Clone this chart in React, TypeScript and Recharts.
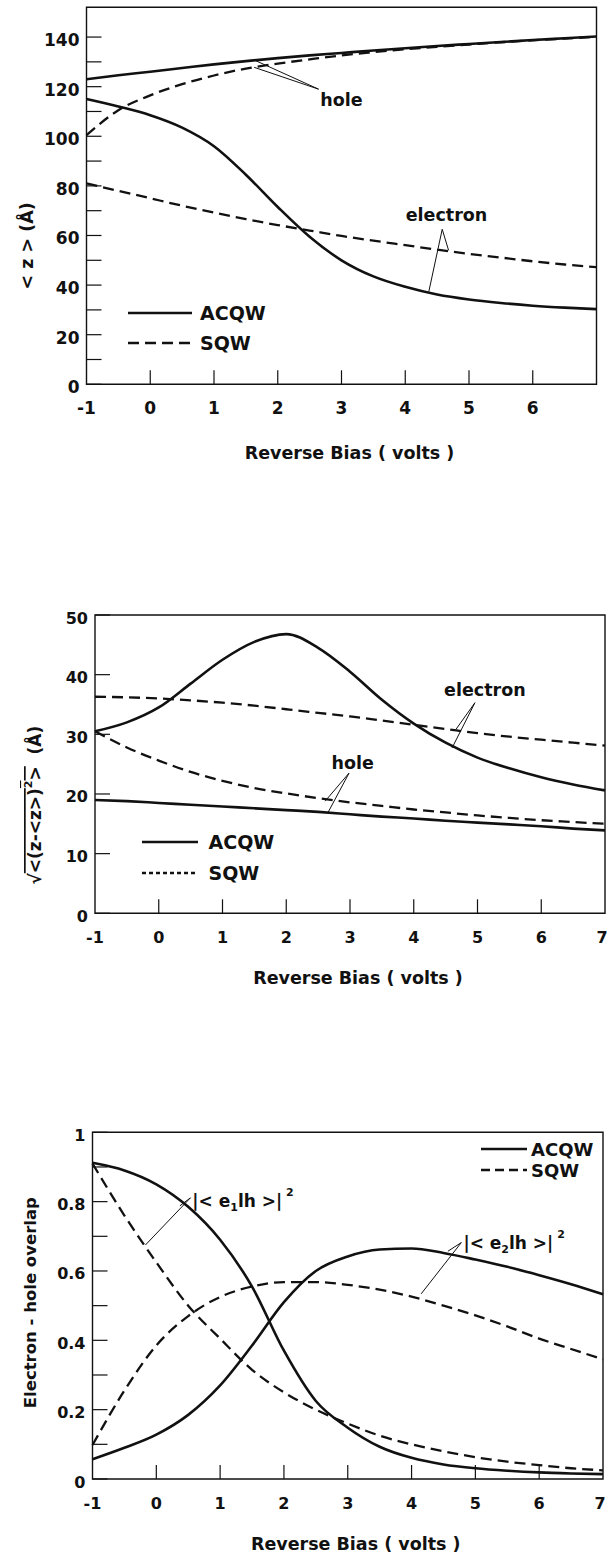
import { LineChart, Line, XAxis, YAxis, ReferenceArea, ReferenceLine, ReferenceDot, Legend } from 'recharts';

const FONT = '"DejaVu Sans", "Liberation Sans", sans-serif';
const INK = '#111';

// reverse bias (volts), shared by all three panels
const BIAS = [-1, -0.5, 0, 0.5, 1, 1.5, 2, 2.5, 3, 3.5, 4, 4.5, 5, 5.5, 6, 6.5, 7];

// panel 1: <z> (Å)
const Z_HOLE_ACQW = [123, 124.6, 126, 127.5, 129, 130.3, 131.5, 132.6, 133.6, 134.6, 135.5, 136.4, 137.2, 138, 138.8, 139.5, 140.2];
const Z_HOLE_SQW = [100.5, 110.5, 116.5, 121, 124.5, 127.3, 129.3, 131, 132.6, 133.9, 135.1, 136.1, 137, 137.9, 138.7, 139.4, 140.1];
const Z_ELEC_ACQW = [115, 112, 108.5, 103.5, 96, 84.5, 71.5, 59.5, 50, 43.5, 39.3, 36.2, 34.2, 32.8, 31.7, 30.9, 30.3];
const Z_ELEC_SQW = [81, 78, 75, 72, 69.2, 66.6, 64.2, 62, 59.8, 57.9, 56.1, 54.3, 52.6, 51.1, 49.6, 48.3, 47.2];

// panel 2: sqrt(<(z-<z>)^2>) (Å)
const W_ELEC_ACQW = [30.5, 32, 34.5, 38.5, 42.5, 45.5, 46.8, 44.5, 40.5, 35.8, 31.8, 28.6, 26.1, 24.3, 22.8, 21.6, 20.6];
const W_ELEC_SQW = [36.3, 36.2, 36, 35.7, 35.3, 34.8, 34.2, 33.6, 33, 32.3, 31.6, 30.9, 30.2, 29.6, 29.1, 28.6, 28.1];
const W_HOLE_SQW = [30.5, 27.8, 25.6, 23.7, 22.2, 21, 20.1, 19.3, 18.6, 18, 17.4, 16.9, 16.4, 16, 15.6, 15.3, 15];
const W_HOLE_ACQW = [19, 18.8, 18.5, 18.2, 17.9, 17.6, 17.3, 17, 16.6, 16.2, 15.9, 15.5, 15.2, 14.9, 14.6, 14.2, 13.9];

// panel 3: electron-hole overlap
const O_E1_ACQW = [0.912, 0.89, 0.85, 0.785, 0.69, 0.555, 0.37, 0.225, 0.148, 0.093, 0.061, 0.042, 0.031, 0.024, 0.019, 0.016, 0.014];
const O_E1_SQW = [0.91, 0.76, 0.625, 0.5, 0.405, 0.315, 0.25, 0.2, 0.16, 0.125, 0.1, 0.08, 0.063, 0.05, 0.04, 0.031, 0.025];
const O_E2_ACQW = [0.057, 0.09, 0.128, 0.185, 0.27, 0.385, 0.51, 0.6, 0.642, 0.662, 0.665, 0.652, 0.633, 0.612, 0.588, 0.562, 0.533];
const O_E2_SQW = [0.098, 0.255, 0.385, 0.47, 0.525, 0.555, 0.568, 0.568, 0.56, 0.546, 0.526, 0.5, 0.472, 0.44, 0.405, 0.375, 0.345];

const X_TICKS = [-1, 0, 1, 2, 3, 4, 5, 6, 7];
const Z_TICKS = [0, 10, 20, 30, 40, 50, 60, 70, 80, 90, 100, 110, 120, 130, 140];
const W_TICKS = [0, 10, 20, 30, 40, 50];
const O_TICKS = [0, 0.1, 0.2, 0.3, 0.4, 0.5, 0.6, 0.7, 0.8, 0.9, 1];

const LEGEND = [
  { name: 'ACQW', dash: false },
  { name: 'SQW', dash: true },
];

const rows = (cols: Record<string, number[]>) =>
  BIAS.map((x, i) => {
    const r: Record<string, number> = { x };
    Object.keys(cols).forEach((k) => (r[k] = cols[k][i]));
    return r;
  });

const zData = rows({ ha: Z_HOLE_ACQW, hs: Z_HOLE_SQW, ea: Z_ELEC_ACQW, es: Z_ELEC_SQW });
const wData = rows({ ea: W_ELEC_ACQW, es: W_ELEC_SQW, hs: W_HOLE_SQW, ha: W_HOLE_ACQW });
const oData = rows({ e1a: O_E1_ACQW, e1s: O_E1_SQW, e2a: O_E2_ACQW, e2s: O_E2_SQW });

const txt = { fontFamily: FONT, fontWeight: 700, fill: INK } as const;

const yTick = (fontSize: number, show: (v: number) => boolean, fmt: (v: number) => string) => (p: any) => {
  const v = p.payload.value;
  return (
    <g>
      <line x1={p.x} x2={p.x + 15} y1={p.y} y2={p.y} stroke={INK} strokeWidth={1.2} />
      {show(v) && (
        <text x={p.x - 7} y={p.y + 3} textAnchor="end" dominantBaseline="central" fontSize={fontSize} {...txt}>
          {fmt(v)}
        </text>
      )}
    </g>
  );
};

const xTick = (fontSize: number, maxLabel: number) => (p: any) => {
  const v = p.payload.value;
  // the last label sits on the page edge; nudge it in so it stays whole
  const lx = v === 7 ? p.x - 3 : p.x;
  return (
    <g>
      {v > -1 && v < 7 && <line x1={p.x} x2={p.x} y1={p.y} y2={p.y - 14} stroke={INK} strokeWidth={1.2} />}
      {v <= maxLabel && (
        <text x={lx} y={p.y + 24} textAnchor="middle" dominantBaseline="central" fontSize={fontSize} {...txt}>
          {v}
        </text>
      )}
    </g>
  );
};

const xTitle = (dy: number) => (p: any) => {
  const vb = p.viewBox;
  return (
    <text x={vb.x + vb.width / 2 + 8} y={vb.y + dy} textAnchor="middle" dominantBaseline="central" fontSize={17.5} {...txt}>
      Reverse Bias ( volts )
    </text>
  );
};

const yTitle = (dx: number, dy: number, content: any, fontSize: number) => (p: any) => {
  const vb = p.viewBox;
  const cx = vb.x + vb.width + dx;
  const cy = vb.y + vb.height / 2 + dy;
  return (
    <text x={cx} y={cy} transform={`rotate(-90 ${cx} ${cy})`} textAnchor="middle" dominantBaseline="central" fontSize={fontSize} {...txt}>
      {content}
    </text>
  );
};

const note = (content: any, fontSize = 17.5) => (p: any) => (
  <text x={p.cx} y={p.cy} dominantBaseline="central" fontSize={fontSize} {...txt}>
    {content}
  </text>
);

function LegendBox({ rowH, lineLen, gap, fontSize, dash }: { rowH: number; lineLen: number; gap: number; fontSize: number; dash: string }) {
  return (
    <div style={{ fontFamily: FONT, fontWeight: 700, fontSize, color: INK }}>
      {LEGEND.map((it) => (
        <div key={it.name} style={{ display: 'flex', alignItems: 'center', height: rowH }}>
          <svg width={lineLen} height={6} style={{ marginRight: gap }}>
            <line x1={0} x2={lineLen} y1={3} y2={3} stroke={INK} strokeWidth={2.4} strokeDasharray={it.dash ? dash : undefined} />
          </svg>
          <span>{it.name}</span>
        </div>
      ))}
    </div>
  );
}

const seg = (a: [number, number], b: [number, number]) => (
  <ReferenceLine segment={[{ x: a[0], y: a[1] }, { x: b[0], y: b[1] }]} stroke={INK} strokeWidth={1} ifOverflow="visible" />
);

const solid = { stroke: INK, strokeWidth: 2.6, dot: false, activeDot: false, isAnimationActive: false } as const;
const dashed = { ...solid, strokeWidth: 2.3, strokeDasharray: '11 6' } as const;

export default function App() {
  return (
    <div style={{ position: 'absolute', left: 0, top: 0, width: 608, height: 1558, background: '#fff' }}>
      {/* panel 1 */}
      <div style={{ position: 'absolute', left: 0, top: 0 }}>
        <LineChart width={608} height={480} data={zData} margin={{ top: 7.3, right: 11.5, bottom: 65.7, left: 26.5 }}>
          <XAxis dataKey="x" type="number" domain={[-1, 7]} ticks={X_TICKS} interval={0} height={30} axisLine={false} tickLine={false} tickSize={0} tickMargin={0} tick={xTick(17, 6)} label={xTitle(69)} />
          <YAxis type="number" domain={[0, 152]} ticks={Z_TICKS} interval={0} width={60} axisLine={false} tickLine={false} tickSize={0} tickMargin={0}
            tick={yTick(17, (v) => v % 20 === 0, (v) => String(v))}
            label={yTitle(-59.5, 50, '< z > (Å)', 17.5)} />
          <ReferenceArea x1={-1} x2={7} y1={0} y2={152} fill="none" stroke={INK} strokeWidth={1.4} />
          <Line dataKey="ha" {...solid} type="monotone" />
          <Line dataKey="hs" {...dashed} type="monotone" />
          <Line dataKey="ea" {...solid} type="monotone" />
          <Line dataKey="es" {...dashed} type="monotone" />
          {seg([2.64, 119], [1.66, 130.4])}
          {seg([2.64, 119], [1.63, 127.8])}
          {seg([4.58, 62.5], [4.68, 54])}
          {seg([4.58, 62.5], [4.37, 37.4])}
          <ReferenceDot x={2.668} y={114.7} r={0} shape={note('hole')} />
          <ReferenceDot x={4.007} y={68.3} r={0} shape={note('electron')} />
          <Legend layout="vertical" align="center" verticalAlign="middle" wrapperStyle={{ left: 128, top: 298.3, width: 'auto' }}
            content={() => <LegendBox rowH={30} lineLen={64} gap={8} fontSize={19} dash="11 6" />} />
        </LineChart>
      </div>

      {/* panel 2 */}
      <div style={{ position: 'absolute', left: 0, top: 520 }}>
        <LineChart width={608} height={490} data={wData} margin={{ top: 95, right: 3, bottom: 66.7, left: 35 }}>
          <XAxis dataKey="x" type="number" domain={[-1, 7]} ticks={X_TICKS} interval={0} height={30} axisLine={false} tickLine={false} tickSize={0} tickMargin={0} tick={xTick(16, 7)} label={xTitle(65)} />
          <YAxis type="number" domain={[0, 50]} ticks={W_TICKS} interval={0} width={60} axisLine={false} tickLine={false} tickSize={0} tickMargin={0}
            tick={yTick(16, () => true, (v) => String(v))}
            label={yTitle(-60, 41, (
              <>
                √<tspan style={{ textDecoration: 'overline' }}>{'<(z-<z>)'}<tspan dy={-7} fontSize={11}>2</tspan><tspan dy={7}>{'>'}</tspan></tspan>
                {'\u00a0\u00a0(Å)'}
              </>
            ), 17)} />
          <ReferenceArea x1={-1} x2={7} y1={0} y2={50} fill="none" stroke={INK} strokeWidth={1.4} />
          <Line dataKey="ea" {...solid} type="monotone" />
          <Line dataKey="es" {...dashed} type="monotone" />
          <Line dataKey="hs" {...dashed} type="monotone" />
          <Line dataKey="ha" {...solid} type="monotone" />
          {seg([4.96, 35.3], [4.66, 30.8])}
          {seg([4.96, 35.3], [4.6, 27.7])}
          {seg([2.985, 23.5], [2.61, 18.8])}
          {seg([2.985, 23.5], [2.65, 16.8])}
          <ReferenceDot x={4.475} y={37.5} r={0} shape={note('electron')} />
          <ReferenceDot x={2.711} y={25.2} r={0} shape={note('hole')} />
          <Legend layout="vertical" align="center" verticalAlign="middle" wrapperStyle={{ left: 141.5, top: 305.9, width: 'auto' }}
            content={() => <LegendBox rowH={31.6} lineLen={56} gap={11} fontSize={19} dash="4 3" />} />
        </LineChart>
      </div>

      {/* panel 3 */}
      <div style={{ position: 'absolute', left: 0, top: 1010 }}>
        <LineChart width={608} height={548} data={oData} margin={{ top: 122.3, right: 5, bottom: 49, left: 32.5 }}>
          <XAxis dataKey="x" type="number" domain={[-1, 7]} ticks={X_TICKS} interval={0} height={30} axisLine={false} tickLine={false} tickSize={0} tickMargin={0} tick={xTick(16, 7)} label={xTitle(65)} />
          <YAxis type="number" domain={[0, 1]} ticks={O_TICKS} interval={0} width={60} axisLine={false} tickLine={false} tickSize={0} tickMargin={0}
            tick={yTick(16, (v) => Math.round(v * 10) % 2 === 0, (v) => String(Math.round(v * 10) / 10))}
            label={yTitle(-61.5, -3, 'Electron - hole overlap', 16.5)} />
          <ReferenceArea x1={-1} x2={7} y1={0} y2={1} fill="none" stroke={INK} strokeWidth={1.4} />
          <Line dataKey="e1a" {...solid} type="monotone" />
          <Line dataKey="e1s" {...dashed} type="monotone" />
          <Line dataKey="e2a" {...solid} type="monotone" />
          <Line dataKey="e2s" {...dashed} type="monotone" />
          {seg([0.535, 0.811], [0.37, 0.788])}
          {seg([0.535, 0.811], [-0.17, 0.675])}
          {seg([4.78, 0.682], [4.57, 0.657])}
          {seg([4.78, 0.682], [4.15, 0.534])}
          <ReferenceDot x={0.565} y={0.803} r={0} shape={note(
            <>{'|< e'}<tspan dy={6} fontSize={11}>1</tspan><tspan dy={-6}>{'lh >|'}</tspan><tspan dy={-9} fontSize={11}>{'\u00a02'}</tspan></>, 17)} />
          <ReferenceDot x={4.813} y={0.682} r={0} shape={note(
            <>{'|< e'}<tspan dy={6} fontSize={11}>2</tspan><tspan dy={-6}>{'lh >|'}</tspan><tspan dy={-9} fontSize={11}>{'\u00a02'}</tspan></>, 17)} />
          <Legend layout="vertical" align="center" verticalAlign="middle" wrapperStyle={{ left: 481, top: 128.5, width: 'auto' }}
            content={() => <LegendBox rowH={21} lineLen={46} gap={4} fontSize={18} dash="9 5" />} />
        </LineChart>
      </div>
    </div>
  );
}
